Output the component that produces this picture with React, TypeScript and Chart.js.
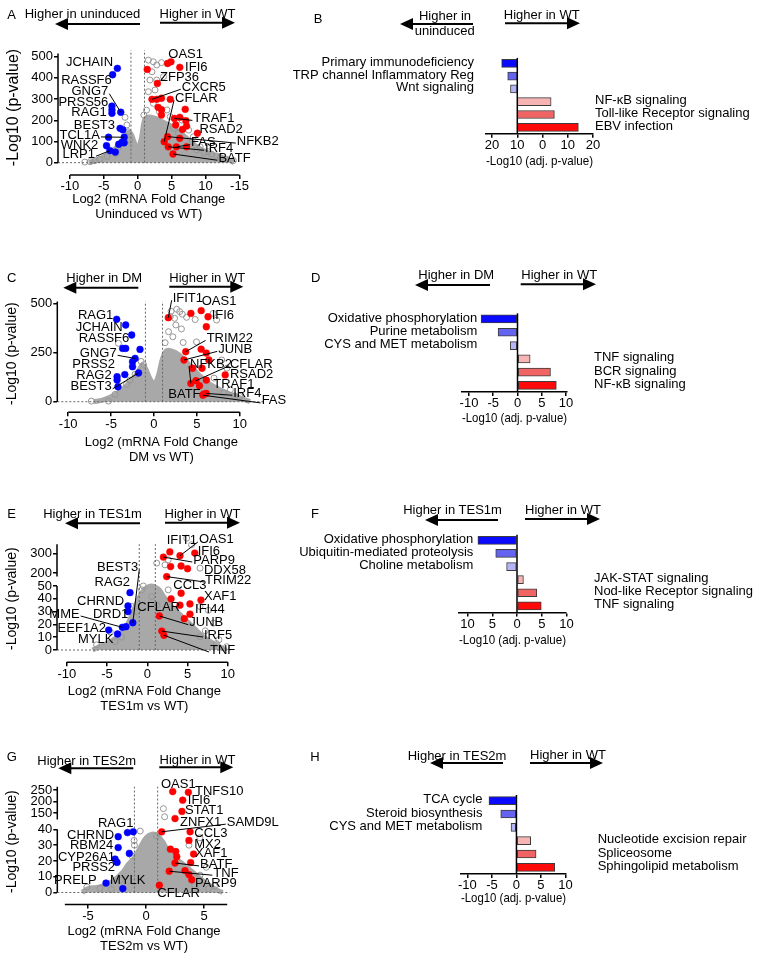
import React, { useEffect, useRef } from "react";
import { Chart, registerables } from "chart.js";
Chart.register(...registerables);

const FONT = '"Liberation Sans", Arial, Helvetica, sans-serif';
Chart.defaults.font.family = FONT;

type Pt = [number, number];
type Gene = [string, number, number, "l" | "r", number?, number?];

// ================= DATA =================
// ---- A: Uninduced vs WT (volcano) ----
const aBlue: Pt[] = [[-3.0, 445], [-3.7, 415], [-3.8, 267], [-3.8, 249], [-3.8, 233], [-2.5, 238], [-2.6, 162], [-2.2, 155], [-2.0, 120], [-4.3, 120], [-4.6, 80], [-2.8, 87], [-4.1, 57], [-3.3, 50], [-2.3, 97], [-2.0, 94]];
const aRed: Pt[] = [[4.9, 476], [4.4, 468], [6.2, 450], [1.4, 440], [2.9, 374], [2.1, 299], [2.8, 299], [3.5, 304], [4.8, 299], [3.0, 261], [3.5, 250], [3.5, 225], [7.0, 252], [5.4, 209], [6.2, 214], [7.1, 198], [7.2, 173], [5.6, 178], [6.6, 157], [8.8, 139], [4.4, 123], [6.2, 115], [3.9, 99], [4.5, 75], [5.7, 75], [7.2, 75], [5.2, 41]];
const aOpen: Pt[] = [[1.57, 484], [2.3, 476], [2.8, 461], [3.5, 472], [2.1, 429], [1.8, 390], [2.8, 390], [3.8, 406], [2.55, 343], [1.57, 335], [2.3, 280], [3.2, 241], [4.3, 249], [4.8, 217], [6.5, 201], [7.5, 154], [8.2, 122], [9.2, 75], [10.4, 52], [11.6, 32], [13.1, 16], [14.1, 10], [8.7, 60], [-1.87, 214], [-1.6, 178], [-1.4, 146], [-2.4, 91], [-3.3, 44], [-5.6, 16], [-7.0, 5], [-7.8, 3], [-1.2, 107], [1.3, 248], [0.9, 225], [5.3, 162], [6.0, 139], [9.8, 48], [12.2, 24], [10.9, 40], [8.0, 100], [-2.9, 70], [-4.5, 30], [-6.3, 10]];
const aCloudX = [-7.2, -6, -5, -4, -3, -2, -1.3, -0.9, -0.5, 0, 0.5, 1, 1.5, 2.5, 3.5, 4.5, 5.5, 6.5, 7.5, 8.5, 9.5, 10.5, 12, 13.5, 14.2];
const aCloudY = [0, 12, 28, 50, 75, 112, 145, 130, 95, 65, 110, 200, 215, 210, 195, 180, 160, 135, 108, 80, 60, 45, 28, 12, 0];
const aXTicks = [-10, -5, 0, 5, 10, 15];
const aXTickLabels = ["-10", "-5", "0", "5", "10", "-15"];
const aYTicks = [0, 100, 200, 300, 400, 500];
const aGenes: Gene[] = [
  ["JCHAIN", -3.64, 472, "r"], ["RASSF6", -3.83, 390, "r"], ["GNG7", -4.34, 335, "r", -2.5, 238],
  ["PRSS56", -4.34, 283, "r"], ["RAG1", -4.57, 236, "r"], ["BEST3", -3.35, 176, "r"],
  ["TCL1A", -5.56, 131, "r", -2.0, 120], ["WNK2", -5.81, 80, "r"], ["LRP1", -6.3, 40, "r", -4.1, 57],
  ["OAS1", 4.51, 513, "l"], ["IFI6", 6.98, 450, "l"], ["ZFP36", 3.29, 403, "l"],
  ["CXCR5", 6.49, 356, "l", 2.1, 299], ["CFLAR", 5.5, 304, "l", 3.9, 99], ["TRAF1", 8.2, 209, "l", 5.4, 209],
  ["RSAD2", 9.09, 158, "l"], ["NFKB2", 14.6, 102, "l", 4.4, 123], ["FAS", 7.86, 94, "l", 5.7, 75],
  ["IRF4", 9.93, 68, "l", 4.5, 75], ["BATF", 11.89, 21, "l", 5.2, 41],
];

// ---- C: DM vs WT (volcano) ----
const cBlue: Pt[] = [[-4.35, 419], [-3.3, 390], [-2.6, 339], [-3.65, 271], [-3.3, 271], [-1.63, 266], [-2.2, 220], [-2.5, 203], [-2.5, 178], [-4.3, 127], [-3.4, 138], [-1.8, 146], [-4.3, 110], [-4.2, 76]];
const cRed: Pt[] = [[1.67, 427], [4.3, 449], [5.5, 463], [6.3, 432], [6.1, 381], [3.7, 254], [5.5, 267], [6.1, 247], [3.5, 212], [6.4, 212], [4.5, 170], [5.6, 170], [8.3, 136], [4.3, 93], [4.9, 107], [6.1, 110], [5.3, 81], [5.8, 39], [6.1, 42], [5.7, 33]];
const cOpen: Pt[] = [[2.65, 470], [3.0, 458], [1.9, 432], [2.4, 424], [1.7, 356], [3.2, 370], [2.55, 390], [4.96, 304], [4.8, 418], [3.8, 429], [6.9, 449], [7.3, 415], [3.4, 301], [7.9, 212], [8.5, 170], [8.9, 61], [8.1, 44], [10, 27], [-4.15, 297], [-2.2, 139], [-3.2, 88], [-4.55, 37], [-5.3, 3], [-7.3, 3], [-1.2, 188], [2.0, 460], [3.3, 445], [1.3, 300], [2.2, 330], [7.0, 120], [9.4, 30], [-1.5, 205], [-2.8, 110]];
const cCloudX = [-7, -6, -5, -4, -3, -2, -1.4, -1, -0.5, 0, 0.5, 1, 1.5, 2.5, 3.5, 4.5, 5.5, 6.5, 7.5, 8.5, 9.5, 10.5, 11.2];
const cCloudY = [0, 8, 25, 50, 90, 140, 185, 170, 120, 90, 130, 220, 260, 250, 215, 170, 125, 90, 65, 45, 28, 12, 0];
const cXTicks = [-10, -5, 0, 5, 10];
const cXTickLabels = ["-10", "-5", "0", "5", "10"];
const cYTicks = [0, 250, 500];
const cGenes: Gene[] = [
  ["IFIT1", 2.18, 526, "l", 1.67, 427], ["OAS1", 5.56, 508, "l"], ["IFI6", 6.72, 441, "l"],
  ["RAG1", -4.74, 441, "r"], ["JCHAIN", -3.65, 376, "r"], ["RASSF6", -2.88, 322, "r"],
  ["GNG7", -4.35, 246, "r", -2.2, 220], ["PRSS2", -4.55, 192, "r"], ["RAG2", -4.93, 136, "r"],
  ["BEST3", -4.93, 76, "r", -1.8, 146], ["TRIM22", 6.14, 322, "l", 3.7, 254], ["JUNB", 7.49, 266, "l", 3.5, 212],
  ["NFKB2", 4.2, 192, "l", 4.3, 93], ["CFLAR", 8.86, 192, "l", 4.9, 107], ["RSAD2", 8.86, 141, "l"],
  ["TRAF1", 6.91, 88, "l"], ["IRF4", 9.24, 43, "l", 6.1, 42], ["BATF", 1.67, 39, "l"],
  ["FAS", 12.55, 4, "l", 5.7, 33],
];

// ---- E: TES1m vs WT (volcano, broken y axis) ----
const eBlue: Pt[] = [[-2.15, 44.8], [-2.4, 34.4], [-2.4, 30], [-1.8, 21.3], [-2.65, 18.2], [-3.1, 17.7], [-4.8, 15.6], [-3.7, 12.5]];
const eRed: Pt[] = [[2.8, 310], [4.06, 290], [5.9, 304], [2.0, 283], [2.9, 234], [4.2, 237], [5.0, 223], [2.41, 159.5], [4.2, 44.3], [2.95, 40], [6.67, 39], [4.06, 35], [5.3, 36], [5.3, 28], [4.6, 24.5], [1.5, 26.6], [1.8, 14.8], [2.07, 11.5]];
const eOpen: Pt[] = [[4.9, 381], [5.5, 347], [2.6, 269], [2.2, 243], [1.17, 252], [6.55, 226], [-0.5, 50], [-0.7, 47], [0.55, 41.7], [1.17, 35], [6.55, 34], [7.6, 31], [8.2, 21], [9.86, 2.6], [8.6, 5], [6.55, 10.4], [-1.94, 34], [-1.3, 30], [-4.6, 14], [-6.3, 4], [-4.0, 6.5], [2.6, 47], [7.2, 15], [8.9, 8], [-3.2, 10]];
const eCloudX = [-6.8, -6, -5, -4, -3, -2, -1.5, -1, -0.5, 0, 0.5, 1, 1.5, 2, 3, 4, 5, 6, 7, 8, 9, 9.8];
const eCloudY = [0, 2.6, 5, 9, 14, 26, 34, 41, 46, 49, 50, 49, 47, 42, 34, 28, 22, 16, 10, 6, 2.6, 0];
const eXTicks = [-10, -5, 0, 5, 10];
const eXTickLabels = ["-10", "-5", "0", "5", "10"];
const eYTicks = [0, 10, 20, 30, 40, 50, 200, 300];
const eGenes: Gene[] = [
  ["IFIT1", 2.41, 367, "l"], ["OAS1", 6.42, 372, "l", 4.06, 290], ["IFI6", 6.26, 314.6, "l"],
  ["PARP9", 5.71, 268, "l", 2.0, 283], ["DDX58", 7.04, 213, "l"], ["TRIM22", 7.17, 120.5, "l", 2.41, 159.5],
  ["CCL3", 3.23, 53, "l"], ["XAF1", 7.04, 42.2, "l"], ["IFI44", 5.93, 31.8, "l"],
  ["JUNB", 5.22, 21.3, "l", 1.5, 26.6], ["IRF5", 7.04, 11.7, "l", 1.8, 14.8], ["TNF", 7.79, 0, "l", 2.07, 11.5],
  ["CFLAR", -1.24, 33.4, "l"], ["BEST3", -1.12, 228.5, "r", -1.8, 21.3], ["RAG2", -2.15, 89, "r"],
  ["CHRND", -2.89, 38.3, "r"], ["MME", -8.4, 28.1, "r", -3.1, 17.7], ["DRD1", -2.36, 28.1, "r"],
  ["EEF1A2", -5.13, 17, "r"], ["MYLK", -4.22, 8.4, "r"],
];

// ---- G: TES2m vs WT (volcano, broken y axis) ----
const gBlue: Pt[] = [[-1.1, 38.5], [-1.6, 38], [-2.4, 35.4], [-2.4, 28.5], [-1.44, 24.8], [-2.67, 21.2], [-2.5, 19.1], [-3.45, 6], [-2.0, 2.5]];
const gRed: Pt[] = [[2.3, 243], [3.65, 240], [3.16, 206], [3.1, 157], [2.5, 113], [1.35, 38.5], [3.8, 38.5], [3.7, 33], [2.1, 27.5], [2.56, 26], [2.65, 22.7], [4.1, 24.4], [2.5, 18.7], [3.85, 19], [2.0, 13.5], [3.36, 13.9], [3.7, 11.4], [3.94, 8.1], [1.15, 4.6]];
const gOpen: Pt[] = [[1.5, 169], [-1.03, 33], [-1.0, 30], [-0.5, 39], [4.65, 34.7], [5.2, 16], [4.65, 11], [5.4, 2.5], [4.2, 4.5], [-3.97, 2.6], [-5.1, 3.5], [-1.23, 23.3], [3.7, 30], [0.9, 36], [-3.0, 2], [5.9, 4], [-2.2, 8], [1.6, 125]];
const gCloudX = [-5.5, -5, -4, -3, -2, -1.5, -1, -0.5, 0, 0.5, 1, 1.5, 2, 3, 4, 5, 6, 6.6];
const gCloudY = [0, 2.5, 3.5, 6.6, 12.9, 18, 22, 28.5, 34.7, 37, 36, 31.5, 25, 19, 13, 7, 2, 0];
const gXTicks = [-5, 0, 5];
const gXTickLabels = ["-5", "0", "5"];
const gYTicks = [0, 10, 20, 30, 40, 150, 200, 250];
const gGenes: Gene[] = [
  ["OAS1", 1.29, 275.7, "l"], ["TNFS10", 4.22, 245.9, "l"], ["IFI6", 3.6, 204, "l"],
  ["STAT1", 3.36, 161.6, "l"], ["ZNFX1", 2.93, 88.7, "l"], ["SAMD9L", 6.96, 88.7, "l", 1.35, 38.5],
  ["CCL3", 4.16, 37.25, "l"], ["MX2", 4.16, 30.6, "l"], ["XAF1", 4.22, 25, "l"],
  ["BATF", 4.66, 18.1, "l", 2.5, 18.7], ["TNF", 5.8, 12.25, "l", 2.0, 13.5], ["PARP9", 4.22, 5.6, "l"],
  ["CFLAR", 0.97, -0.6, "l"], ["RAG1", -1.09, 77, "r"], ["CHRND", -2.76, 36.4, "r"],
  ["RBM24", -2.82, 29.6, "r"], ["CYP26A1", -2.67, 22.25, "r"], ["PRSS2", -2.67, 16, "r"],
  ["PRELP", -4.25, 7.7, "r"], ["MYLK", -3.1, 7.7, "l"],
];

// ---- B, D, F, H: pathway bars ----
const bLabels = ["Primary immunodeficiency", "TRP channel Inflammatory Reg", "Wnt signaling", "NF-κB signaling", "Toll-like Receptor signaling", "EBV infection"];
const bValues = [-16.2, -13.8, -12.7, 3.4, 4.7, 14.2];
const bBase = -10;
const bXTicks = [-20, -10, 0, 10, 20];
const bXTickLabels = ["20", "10", "0", "10", "20"];

const dLabels = ["Oxidative phosphorylation", "Purine metabolism", "CYS and MET metabolism", "TNF signaling", "BCR signaling", "NF-κB signaling"];
const dValues = [-7.5, -4.0, -1.5, 2.6, 6.8, 8.0];
const dXTicks = [-10, -5, 0, 5, 10];
const dXTickLabels = ["-10", "-5", "0", "5", "10"];

const fLabels = ["Oxidative phosphorylation", "Ubiquitin-mediated proteolysis", "Choline metabolism", "JAK-STAT signaling", "Nod-like Receptor signaling", "TNF signaling"];
const fValues = [-7.9, -4.3, -2.1, 1.3, 4.0, 4.9];
const fXTicks = [-10, -5, 0, 5, 10];
const fXTickLabels = ["10", "5", "0", "5", "10"];

const hLabels = ["TCA cycle", "Steroid biosynthesis", "CYS and MET metabolism", "Nucleotide excision repair", "Spliceosome", "Sphingolipid metabolism"];
const hValues = [-5.6, -3.2, -1.1, 2.9, 4.0, 7.8];
const hXTicks = [-10, -5, 0, 5, 10];
const hXTickLabels = ["-10", "-5", "0", "5", "10"];

// ================= STYLE / LAYOUT =================
const BAR_COLORS = ["#0a0aff", "#6464f0", "#b4b4f6", "#f7b4b4", "#f06464", "#ff0a0a"];
const CLOUD = "rgb(168,168,168)";
const OPEN = "rgb(150,150,150)";

const idT = (y: number) => y;
const eT = (y: number) => (y <= 50 ? y : y <= 200 ? 50 + (y - 50) / 15 : 60 + (y - 200) * 0.151);
const gT = (y: number) => (y <= 40 ? y : y <= 150 ? 40 + ((y - 40) * 10.4) / 110 : 50.4 + (y - 150) * 0.146);

const VA = { box: { left: 0, top: 30, width: 300, height: 200 }, area: { l: 58, r: 239.5, t: 40, b: 175 }, scaleBottom: 221.5, xMin: -11.75, xMax: 15, yMin: -58, yMax: 578.8, xAxisSpan: [-10, 15], ySegs: [[0, 515]], dotTop: 530, zeroEnd: 14.1, yTitleSize: 16 };
const VC = { box: { left: 0, top: 285, width: 300, height: 185 }, area: { l: 57.3, r: 265.5, t: 295, b: 412.3 }, scaleBottom: 465, xMin: -11.27, xMax: 13, yMin: -53.9, yMax: 542.5, xAxisSpan: [-10, 10], ySegs: [[0, 510]], dotTop: 510, zeroEnd: 12.7, yTitleSize: 14 };
const VE = { box: { left: 0, top: 525, width: 300, height: 190 }, area: { l: 57, r: 231.8, t: 535, b: 662.3 }, scaleBottom: 714.2, xMin: -11.22, xMax: 10.5, yMin: -9.6, yMax: 89.8, xAxisSpan: [-10, 10], ySegs: [[0, 50], [159.5, 350]], dotTop: 350, zeroEnd: 10.3, yTitleSize: 14 };
const VG = { box: { left: 0, top: 770, width: 300, height: 190 }, area: { l: 57.3, r: 230.7, t: 777, b: 904.5 }, scaleBottom: 953.5, xMin: -7.65, xMax: 7.3, yMin: -7.6, yMax: 72.1, xAxisSpan: [-7, 7], ySegs: [[0, 41], [106, 264]], dotTop: 264, zeroEnd: 7.2, yTitleSize: 14 };

const LB = { box: { left: 280, top: 40, width: 480, height: 140 }, area: { l: 486, r: 593, t: 56.9, b: 133.7 }, scaleBottom: 169.2, xMin: -22.4, xMax: 20, leftGap: 43.3, rightGap: 77.7 };
const LD = { box: { left: 280, top: 295, width: 480, height: 135 }, area: { l: 462, r: 567, t: 312.3, b: 392.1 }, scaleBottom: 425.5, xMin: -11.44, xMax: 10.2, leftGap: 40.2, rightGap: 76.5 };
const LF = { box: { left: 280, top: 525, width: 480, height: 130 }, area: { l: 459, r: 566, t: 533.8, b: 612.4 }, scaleBottom: 647.5, xMin: -11.72, xMax: 9.9, leftGap: 43.7, rightGap: 77 };
const LH = { box: { left: 280, top: 780, width: 480, height: 130 }, area: { l: 461, r: 566, t: 794, b: 874 }, scaleBottom: 905.5, xMin: -11.3, xMax: 10.1, leftGap: 34, rightGap: 81.2 };

const tickFont = { family: FONT, size: 13 };

function volcanoConfig(d: any, L: any) {
  const T = d.T;
  const P = (arr: Pt[]) => arr.map(([x, y]) => ({ x, y: T(y) }));
  const yAxisW = L.area.l - L.box.left;
  const xAxisH = L.scaleBottom - L.area.b;
  const padding = { left: 0, top: L.area.t - L.box.top, right: L.box.left + L.box.width - L.area.r, bottom: L.box.top + L.box.height - L.scaleBottom };
  const cloud = d.cloudX.map((x: number, i: number) => ({ x, y: T(d.cloudY[i]) }));
  const dotted = { type: "line", borderColor: "#666", borderWidth: 1, borderDash: [2, 2], pointRadius: 0, fill: false, order: 4, clip: false };
  const decor = {
    id: "volcanoDecor",
    afterDraw(chart: any) {
      const { ctx, chartArea: ca, scales } = chart;
      const xs = scales.x, ys = scales.y;
      ctx.save();
      ctx.strokeStyle = "#000";
      ctx.lineWidth = 1.5;
      ctx.beginPath();
      ctx.moveTo(xs.getPixelForValue(L.xAxisSpan[0]), ca.bottom);
      ctx.lineTo(xs.getPixelForValue(L.xAxisSpan[1]), ca.bottom);
      for (const [a, b] of L.ySegs) {
        ctx.moveTo(ca.left, ys.getPixelForValue(T(a)));
        ctx.lineTo(ca.left, ys.getPixelForValue(T(b)));
      }
      ctx.stroke();
      ctx.font = `13px ${FONT}`;
      ctx.fillStyle = "#000";
      ctx.textBaseline = "middle";
      ctx.lineWidth = 1;
      for (const g of d.genes as Gene[]) {
        const [text, gx, gy, al, tx, ty] = g;
        const px = xs.getPixelForValue(gx), py = ys.getPixelForValue(T(gy));
        ctx.textAlign = al === "l" ? "left" : "right";
        ctx.fillText(text, px, py);
        if (tx !== undefined && ty !== undefined) {
          ctx.beginPath();
          ctx.moveTo(al === "l" ? px - 1 : px + 1, py + 2);
          ctx.lineTo(xs.getPixelForValue(tx), ys.getPixelForValue(T(ty)));
          ctx.stroke();
        }
      }
      ctx.restore();
    },
  };
  return {
    type: "scatter",
    data: {
      datasets: [
        { type: "line", data: cloud, fill: { value: 0 }, backgroundColor: CLOUD, borderColor: CLOUD, borderWidth: 5, borderJoinStyle: "round", tension: 0.35, pointRadius: 0, order: 6, clip: false },
        { data: P(d.open), pointRadius: 3, pointBackgroundColor: "rgba(255,255,255,0)", pointBorderColor: OPEN, pointBorderWidth: 1, order: 5, clip: false },
        { ...dotted, data: [{ x: -1, y: 0 }, { x: -1, y: T(L.dotTop) }] },
        { ...dotted, data: [{ x: 1, y: 0 }, { x: 1, y: T(L.dotTop) }] },
        { ...dotted, data: [{ x: L.xMin, y: 0 }, { x: L.zeroEnd, y: 0 }] },
        { data: P(d.blue), pointRadius: 3.4, pointBackgroundColor: "#0000ff", pointBorderColor: "#0000ff", pointBorderWidth: 0.5, order: 1, clip: false },
        { data: P(d.red), pointRadius: 3.4, pointBackgroundColor: "#ff0000", pointBorderColor: "#ff0000", pointBorderWidth: 0.5, order: 1, clip: false },
      ],
    },
    options: {
      animation: false, responsive: false, maintainAspectRatio: false, events: [],
      layout: { padding, autoPadding: false },
      plugins: { legend: { display: false }, tooltip: { enabled: false } },
      scales: {
        x: {
          type: "linear", min: L.xMin, max: L.xMax,
          afterBuildTicks: (s: any) => { s.ticks = d.xTicks.map((v: number) => ({ value: v })); },
          afterFit: (s: any) => { s.height = xAxisH; },
          ticks: { color: "#000", font: tickFont, padding: 0, autoSkip: false, maxRotation: 0, minRotation: 0, callback: (_v: any, i: number) => d.xTickLabels[i] },
          grid: { display: true, drawOnChartArea: false, drawTicks: true, tickLength: 4, color: "#000", lineWidth: 1.5 },
          border: { display: false },
          title: { display: true, text: d.xTitle, color: "#000", font: { family: FONT, size: 13, lineHeight: 1.15 }, padding: 0 },
        },
        y: {
          type: "linear", min: L.yMin, max: L.yMax,
          afterBuildTicks: (s: any) => { s.ticks = d.yTicks.map((v: number) => ({ value: T(v) })); },
          afterFit: (s: any) => { s.width = yAxisW; },
          ticks: { color: "#000", font: tickFont, padding: 1, autoSkip: false, callback: (_v: any, i: number) => String(d.yTicks[i]) },
          grid: { display: true, drawOnChartArea: false, drawTicks: true, tickLength: 4, color: "#000", lineWidth: 1.5 },
          border: { display: false },
          title: { display: true, text: "-Log10 (p-value)", color: "#000", font: { family: FONT, size: L.yTitleSize }, padding: { top: 4, bottom: 0 } },
        },
      },
    },
    plugins: [decor],
  };
}

function barConfig(d: any, L: any) {
  const xAxisH = L.scaleBottom - L.area.b;
  const padding = { left: L.area.l - L.box.left, right: L.box.left + L.box.width - L.area.r, top: L.area.t - L.box.top, bottom: L.box.top + L.box.height - L.scaleBottom };
  const decor = {
    id: "barDecor",
    afterDraw(chart: any) {
      const { ctx, chartArea: ca, scales } = chart;
      const bx = scales.x.getPixelForValue(d.base);
      ctx.save();
      ctx.strokeStyle = "#000";
      ctx.lineWidth = 1.5;
      ctx.beginPath();
      ctx.moveTo(bx, ca.top + 1);
      ctx.lineTo(bx, ca.bottom);
      ctx.stroke();
      ctx.font = `13px ${FONT}`;
      ctx.fillStyle = "#000";
      ctx.textBaseline = "middle";
      d.labels.forEach((lab: string, i: number) => {
        const py = scales.y.getPixelForValue(i) - 1;
        if (d.values[i] < d.base) {
          ctx.textAlign = "right";
          ctx.fillText(lab, bx - L.leftGap, py);
        } else {
          ctx.textAlign = "left";
          ctx.fillText(lab, bx + L.rightGap, py);
        }
      });
      ctx.restore();
    },
  };
  return {
    type: "bar",
    data: {
      labels: d.labels,
      datasets: [{ data: d.values.map((v: number) => [d.base, v]), backgroundColor: BAR_COLORS, borderColor: "#3c3c3c", borderWidth: 1, borderSkipped: false, barThickness: 8 }],
    },
    options: {
      indexAxis: "y",
      animation: false, responsive: false, maintainAspectRatio: false, events: [],
      layout: { padding, autoPadding: false },
      plugins: { legend: { display: false }, tooltip: { enabled: false } },
      scales: {
        x: {
          type: "linear", min: L.xMin, max: L.xMax,
          afterBuildTicks: (s: any) => { s.ticks = d.xTicks.map((v: number) => ({ value: v })); },
          afterFit: (s: any) => { s.height = xAxisH; },
          ticks: { color: "#000", font: tickFont, padding: 0, autoSkip: false, maxRotation: 0, minRotation: 0, callback: (_v: any, i: number) => d.xTickLabels[i] },
          grid: { display: true, drawOnChartArea: false, drawTicks: true, tickLength: 4, color: "#000", lineWidth: 1.5 },
          border: { display: true, color: "#000", width: 1.5 },
          title: { display: true, text: "-Log10 (adj. p-value)", color: "#000", font: { family: FONT, size: 13, lineHeight: 1.15 }, padding: 0 },
        },
        y: { type: "category", display: false },
      },
    },
    plugins: [decor],
  };
}

function ChartBox({ box, config }: { box: any; config: any }) {
  const ref = useRef<HTMLCanvasElement | null>(null);
  useEffect(() => {
    if (!ref.current) return;
    const chart = new Chart(ref.current, config);
    return () => chart.destroy();
  }, []);
  return (
    <canvas
      ref={ref}
      width={box.width}
      height={box.height}
      style={{ position: "absolute", left: box.left, top: box.top, width: box.width, height: box.height }}
    />
  );
}

// header annotations: [text, cx, cy]
const HEADER_TEXT: [string, number, number][] = [
  ["A", 11.5, 14.7], ["Higher in uninduced", 82.5, 13.3], ["Higher in WT", 197.5, 13.3],
  ["B", 318, 18.3], ["Higher in", 445, 15], ["uninduced", 444.7, 30.7], ["Higher in WT", 541.7, 14],
  ["C", 11.7, 277.7], ["Higher in DM", 104.2, 277.7], ["Higher in WT", 207.2, 277.7],
  ["D", 315.8, 277.7], ["Higher in DM", 456.2, 274.3], ["Higher in WT", 559.2, 274.3],
  ["E", 11.7, 513.3], ["Higher in TES1m", 92.5, 513.3], ["Higher in WT", 202.5, 513.3],
  ["F", 315, 513], ["Higher in TES1m", 452.5, 509], ["Higher in WT", 563, 509],
  ["G", 11.7, 756.7], ["Higher in TES2m", 86.7, 760], ["Higher in WT", 197.5, 759.3],
  ["H", 315, 756.7], ["Higher in TES2m", 457, 755], ["Higher in WT", 568, 754],
];
// arrows: [x1, x2, y, dir]
const ARROWS: [number, number, number, "l" | "r"][] = [
  [55, 140, 24, "l"], [160, 235, 22.7, "r"],
  [400, 473, 24, "l"], [505, 580, 23.3, "r"],
  [63.3, 138.3, 287.7, "l"], [169.3, 243.3, 286.7, "r"],
  [415, 490, 285, "l"], [520.7, 596, 284.3, "r"],
  [65, 140, 523.3, "l"], [165, 240, 522.7, "r"],
  [425, 498, 520, "l"], [525, 600, 519, "r"],
  [58.3, 133.3, 768.3, "l"], [159.3, 233.3, 767.3, "r"],
  [430, 503, 763, "l"], [530, 603, 763, "r"],
];

function Headers() {
  return (
    <svg width={760} height={960} style={{ position: "absolute", left: 0, top: 0, pointerEvents: "none" }}>
      {HEADER_TEXT.map(([t, x, y], i) => (
        <text key={"t" + i} x={x} y={y} textAnchor="middle" dominantBaseline="central" fontFamily={FONT} fontSize={13} fill="#000">
          {t}
        </text>
      ))}
      {ARROWS.map(([x1, x2, y, dir], i) => {
        const head = dir === "l"
          ? `${x1},${y} ${x1 + 13},${y - 6} ${x1 + 13},${y + 6}`
          : `${x2},${y} ${x2 - 13},${y - 6} ${x2 - 13},${y + 6}`;
        return (
          <g key={"a" + i}>
            <line x1={dir === "l" ? x1 + 10 : x1} x2={dir === "r" ? x2 - 10 : x2} y1={y} y2={y} stroke="#000" strokeWidth={2} />
            <polygon points={head} fill="#000" />
          </g>
        );
      })}
    </svg>
  );
}

export default function App() {
  const A = { T: idT, blue: aBlue, red: aRed, open: aOpen, cloudX: aCloudX, cloudY: aCloudY, xTicks: aXTicks, xTickLabels: aXTickLabels, yTicks: aYTicks, genes: aGenes, xTitle: ["Log2 (mRNA Fold Change", "Uninduced vs WT)"] };
  const C = { T: idT, blue: cBlue, red: cRed, open: cOpen, cloudX: cCloudX, cloudY: cCloudY, xTicks: cXTicks, xTickLabels: cXTickLabels, yTicks: cYTicks, genes: cGenes, xTitle: ["Log2 (mRNA Fold Change", "DM vs WT)"] };
  const E = { T: eT, blue: eBlue, red: eRed, open: eOpen, cloudX: eCloudX, cloudY: eCloudY, xTicks: eXTicks, xTickLabels: eXTickLabels, yTicks: eYTicks, genes: eGenes, xTitle: ["Log2 (mRNA Fold Change", "TES1m vs WT)"] };
  const G = { T: gT, blue: gBlue, red: gRed, open: gOpen, cloudX: gCloudX, cloudY: gCloudY, xTicks: gXTicks, xTickLabels: gXTickLabels, yTicks: gYTicks, genes: gGenes, xTitle: ["Log2 (mRNA Fold Change", "TES2m vs WT)"] };
  const B = { labels: bLabels, values: bValues, base: bBase, xTicks: bXTicks, xTickLabels: bXTickLabels };
  const D = { labels: dLabels, values: dValues, base: 0, xTicks: dXTicks, xTickLabels: dXTickLabels };
  const F = { labels: fLabels, values: fValues, base: 0, xTicks: fXTicks, xTickLabels: fXTickLabels };
  const H = { labels: hLabels, values: hValues, base: 0, xTicks: hXTicks, xTickLabels: hXTickLabels };
  return (
    <div style={{ position: "absolute", left: 0, top: 0, width: 760, height: 960, background: "#fff", overflow: "hidden", fontFamily: FONT }}>
      <ChartBox box={VA.box} config={volcanoConfig(A, VA)} />
      <ChartBox box={VC.box} config={volcanoConfig(C, VC)} />
      <ChartBox box={VE.box} config={volcanoConfig(E, VE)} />
      <ChartBox box={VG.box} config={volcanoConfig(G, VG)} />
      <ChartBox box={LB.box} config={barConfig(B, LB)} />
      <ChartBox box={LD.box} config={barConfig(D, LD)} />
      <ChartBox box={LF.box} config={barConfig(F, LF)} />
      <ChartBox box={LH.box} config={barConfig(H, LH)} />
      <Headers />
    </div>
  );
}
